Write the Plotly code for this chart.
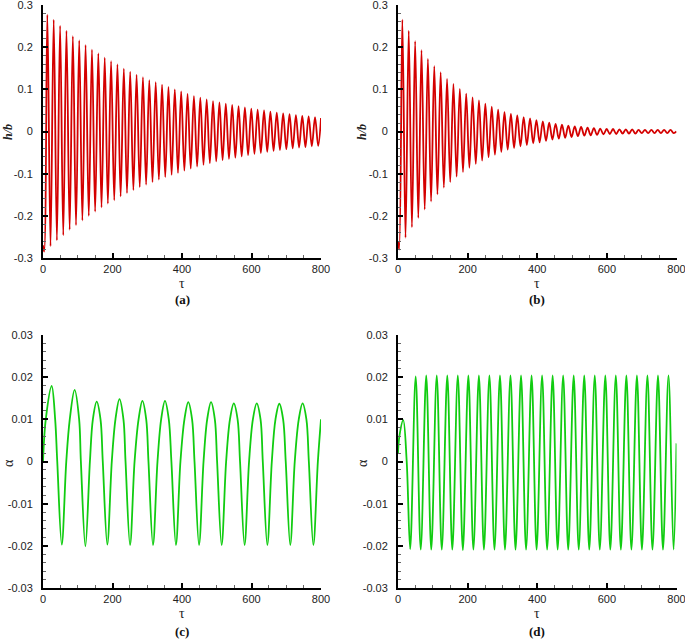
import plotly.graph_objects as go

# ---------------- data ----------------
# (a) heave h/b : peaks and troughs
tau_a_pk = [12.5, 30.8, 49.2, 67.5, 85.9, 104.2, 122.5, 140.9, 159.2, 177.6, 195.9, 214.2, 232.6,
            250.9, 269.3, 287.6, 305.9, 324.3, 342.6, 361.0, 379.3, 397.6, 416.0, 434.3, 452.7,
            471.0, 489.3, 507.7, 526.0, 544.4, 562.7, 581.0, 599.4, 617.7, 636.1, 654.4, 672.7,
            691.1, 709.4, 727.8, 746.1, 764.4, 782.8]
h_a_pk = [0.277, 0.265, 0.251, 0.239, 0.226, 0.216, 0.205, 0.194, 0.185, 0.175, 0.167, 0.159, 0.149,
          0.142, 0.135, 0.129, 0.122, 0.117, 0.111, 0.106, 0.100, 0.095, 0.089, 0.084, 0.080,
          0.076, 0.072, 0.069, 0.066, 0.063, 0.060, 0.057, 0.054, 0.052, 0.050, 0.047, 0.045,
          0.043, 0.041, 0.039, 0.037, 0.036, 0.034]
tau_a_tr = [3.3, 21.6, 40.0, 58.3, 76.7, 95.0, 113.3, 131.7, 150.0, 168.4, 186.7, 205.0, 223.4,
            241.7, 260.1, 278.4, 296.7, 315.1, 333.4, 351.8, 370.1, 388.4, 406.8, 425.1, 443.5,
            461.8, 480.1, 498.5, 516.8, 535.2, 553.5, 571.8, 590.2, 608.5, 626.9, 645.2, 663.5,
            681.9, 700.2, 718.6, 736.9, 755.2, 773.6, 791.9]
h_a_tr = [-0.285, -0.272, -0.258, -0.246, -0.233, -0.222, -0.211, -0.200, -0.190, -0.180, -0.171,
          -0.163, -0.154, -0.146, -0.139, -0.132, -0.126, -0.120, -0.114, -0.108, -0.103, -0.098,
          -0.093, -0.088, -0.083, -0.079, -0.075, -0.071, -0.068, -0.065, -0.062, -0.059, -0.056,
          -0.053, -0.051, -0.048, -0.046, -0.044, -0.042, -0.040, -0.038, -0.037, -0.035, -0.034]
tau_a_ends = [0, 800]
h_a_ends = [-0.27, 0.032]

# (b) heave h/b : peaks and troughs
tau_b_pk = tau_a_pk
h_b_pk = [0.265, 0.239, 0.214, 0.193, 0.172, 0.155, 0.141, 0.125, 0.113, 0.101, 0.090, 0.081, 0.074,
          0.066, 0.059, 0.052, 0.046, 0.042, 0.038, 0.034, 0.031, 0.027, 0.024, 0.021, 0.018,
          0.016, 0.014, 0.012, 0.011, 0.009, 0.008, 0.007, 0.006, 0.006, 0.005, 0.005, 0.005,
          0.004, 0.004, 0.004, 0.004, 0.004, 0.004]
tau_b_tr = tau_a_tr
h_b_tr = [-0.280, -0.252, -0.227, -0.205, -0.185, -0.166, -0.149, -0.133, -0.120, -0.107, -0.096,
          -0.086, -0.077, -0.069, -0.061, -0.055, -0.048, -0.043, -0.039, -0.035, -0.032, -0.028,
          -0.026, -0.022, -0.019, -0.017, -0.015, -0.013, -0.011, -0.010, -0.009, -0.008, -0.007,
          -0.006, -0.006, -0.005, -0.005, -0.005, -0.004, -0.004, -0.004, -0.004, -0.004, -0.004]
tau_b_ends = [0, 800]
h_b_ends = [-0.26, 0.0]

# (c) pitch alpha : peaks, shoulders (0.01 level), zero crossings, cusps
tau_c_pk = [25, 91, 154.5, 220, 286, 351, 418, 483.5, 549, 615, 680, 747]
alpha_c_pk = [0.0179, 0.0170, 0.0142, 0.0148, 0.0144, 0.0144, 0.0141, 0.0141, 0.0138, 0.0138,
              0.0137, 0.0138]
tau_c_sh = [8, 35, 77, 104, 143.5, 165.5, 208.5, 231.5, 275, 297, 340, 362, 407, 429,
            472.5, 494.5, 538, 560, 604, 626, 669, 691, 736, 758]
alpha_c_sh = [0.010] * len(tau_c_sh)
tau_c_cusp = [54, 122, 185, 250.5, 316.5, 382.5, 449, 514, 580, 645.5, 711.5, 778]
alpha_c_cusp = [-0.0197, -0.0201, -0.0197, -0.0198, -0.0198, -0.0198, -0.0198, -0.0198, -0.0198,
                -0.0198, -0.0198, -0.0198]
tau_c_zero = [0, 41, 67, 109, 135, 172, 198, 237.5, 263.5, 303.5, 329.5, 369.5, 395.5, 436, 462,
              501, 527, 567, 593, 632.5, 658.5, 698.5, 724.5, 765, 791]
alpha_c_zero = [0.0] * len(tau_c_zero)
tau_c_end = [800]
alpha_c_end = [0.010]

# (d) pitch alpha : peaks and troughs
tau_d_pk = [15, 50.8, 81.1, 111.3, 141.6, 171.8, 202.1, 232.4, 262.6, 292.9, 323.1, 353.4, 383.7,
            413.9, 444.2, 474.4, 504.7, 535.0, 565.2, 595.5, 625.7, 656.0, 686.3, 716.5, 746.8, 777.0]
alpha_d_pk = [0.0098, 0.0202, 0.0204, 0.0204, 0.0204, 0.0204, 0.0204, 0.0204, 0.0204, 0.0204,
              0.0204, 0.0204, 0.0204, 0.0204, 0.0204, 0.0204, 0.0204, 0.0204, 0.0204, 0.0204,
              0.0204, 0.0204, 0.0204, 0.0204, 0.0204, 0.0204]
tau_d_tr = [35.0, 65.3, 95.5, 125.8, 156.0, 186.3, 216.6, 246.8, 277.1, 307.3, 337.6, 367.9, 398.1,
            428.4, 458.6, 488.9, 519.2, 549.4, 579.7, 609.9, 640.2, 670.5, 700.7, 731.0, 761.2, 791.5]
alpha_d_tr = [-0.0208, -0.0209, -0.0209, -0.0209, -0.0209, -0.0210, -0.0209, -0.0209, -0.0209,
              -0.0209, -0.0209, -0.0209, -0.0209, -0.0209, -0.0209, -0.0209, -0.0209, -0.0209,
              -0.0209, -0.0209, -0.0209, -0.0209, -0.0209, -0.0209, -0.0209, -0.0209]
tau_d_other = [0, 4, 25, 800]
alpha_d_other = [0.002, 0.006, 0.0, 0.0043]

# tick labels
tau_ticks = [0, 200, 400, 600, 800]
tau_ticktext = ["0", "200", "400", "600", "800"]
h_ticks = [-0.3, -0.2, -0.1, 0, 0.1, 0.2, 0.3]
h_ticktext = ["-0.3", "-0.2", "-0.1", "0", "0.1", "0.2", "0.3"]
alpha_ticks = [-0.03, -0.02, -0.01, 0, 0.01, 0.02, 0.03]
alpha_ticktext = ["-0.03", "-0.02", "-0.01", "0", "0.01", "0.02", "0.03"]
panel_labels = ["(a)", "(b)", "(c)", "(d)"]


def merge(*pairs):
    pts = []
    for t, v in pairs:
        pts += list(zip(t, v))
    pts.sort(key=lambda p: p[0])
    return [p[0] for p in pts], [p[1] for p in pts]


tau_a, h_a = merge((tau_a_pk, h_a_pk), (tau_a_tr, h_a_tr), (tau_a_ends, h_a_ends))
tau_b, h_b = merge((tau_b_pk, h_b_pk), (tau_b_tr, h_b_tr), (tau_b_ends, h_b_ends))
tau_c, alpha_c = merge((tau_c_pk, alpha_c_pk), (tau_c_sh, alpha_c_sh), (tau_c_cusp, alpha_c_cusp),
                       (tau_c_zero, alpha_c_zero), (tau_c_end, alpha_c_end))
tau_d, alpha_d = merge((tau_d_pk, alpha_d_pk), (tau_d_tr, alpha_d_tr), (tau_d_other, alpha_d_other))

RED = "#d40000"
GREEN = "#11cc11"

W, H = 685, 640


def fx(px):
    return px / W


def fy(py):
    return 1 - py / H


fig = go.Figure()
series = [(tau_a, h_a, RED, "x", "y"), (tau_b, h_b, RED, "x2", "y2"),
          (tau_c, alpha_c, GREEN, "x3", "y3"), (tau_d, alpha_d, GREEN, "x4", "y4")]
for t, v, c, xa, ya in series:
    fig.add_trace(go.Scatter(x=t, y=v, mode="lines", xaxis=xa, yaxis=ya, showlegend=False,
                             line=dict(color=c, width=1.8, shape="spline", smoothing=1.0),
                             hoverinfo="skip"))

tickfont = dict(family="Liberation Sans, Arial, sans-serif", size=11, color="#222")


def axis_style(**kw):
    d = dict(showline=True, linecolor="black", linewidth=2, mirror=False,
             ticks="inside", ticklen=5, tickwidth=1.5, tickcolor="black",
             showgrid=False, zeroline=False, tickfont=tickfont, tickmode="array",
             fixedrange=True, automargin=False, ticklabeloverflow="allow")
    d.update(kw)
    return d


dom_xl = [fx(43), fx(321)]
dom_xr = [fx(398), fx(676.5)]
dom_yt = [fy(258), fy(5)]
dom_yb = [fy(588), fy(335)]

xminor = dict(ticks="inside", ticklen=3, tickwidth=1, tickcolor="#666", tickmode="linear",
              tick0=0, dtick=50)
hminor = dict(ticks="inside", ticklen=3, tickwidth=1, tickcolor="#666", tickmode="linear",
              tick0=0, dtick=0.02)
aminor = dict(ticks="inside", ticklen=3, tickwidth=1, tickcolor="#666", tickmode="linear",
              tick0=0, dtick=0.002)

layout_axes = {}
for i, (dx, dy, yt, ytt, ymin, yr) in enumerate([
        (dom_xl, dom_yt, h_ticks, h_ticktext, hminor, [-0.3, 0.3]),
        (dom_xr, dom_yt, h_ticks, h_ticktext, hminor, [-0.3, 0.3]),
        (dom_xl, dom_yb, alpha_ticks, alpha_ticktext, aminor, [-0.03, 0.03]),
        (dom_xr, dom_yb, alpha_ticks, alpha_ticktext, aminor, [-0.03, 0.03])]):
    n = "" if i == 0 else str(i + 1)
    layout_axes["xaxis" + n] = axis_style(domain=dx, range=[0, 800], tickvals=tau_ticks,
                                          ticktext=tau_ticktext, minor=xminor,
                                          anchor="y" + n)
    layout_axes["yaxis" + n] = axis_style(domain=dy, range=yr, tickvals=yt, ticktext=ytt,
                                          minor=ymin, anchor="x" + n, ticklabelstandoff=6)

serif = "Liberation Serif, Times New Roman, serif"
ann = []
centers_x = [(43 + 321) / 2, (398 + 676.5) / 2]
for j, cx in enumerate(centers_x):
    ann.append(dict(x=fx(cx), y=fy(283), text="τ", font=dict(family=serif, size=14, color="#222")))
    ann.append(dict(x=fx(cx), y=fy(299), text="<b>" + panel_labels[j] + "</b>",
                    font=dict(family=serif, size=13, color="#111")))
    ann.append(dict(x=fx(cx), y=fy(613), text="τ", font=dict(family=serif, size=14, color="#222")))
    ann.append(dict(x=fx(cx), y=fy(631), text="<b>" + panel_labels[j + 2] + "</b>",
                    font=dict(family=serif, size=13, color="#111")))
for xl in [8, 362]:
    ann.append(dict(x=fx(xl), y=fy(132), text="<b><i>h/b</i></b>", textangle=-90,
                    font=dict(family=serif, size=12, color="#222")))
    ann.append(dict(x=fx(xl), y=fy(463), text="α", textangle=-90,
                    font=dict(family=serif, size=14, color="#222")))
for a in ann:
    a.update(xref="paper", yref="paper", showarrow=False, xanchor="center", yanchor="middle")

fig.update_layout(width=W, height=H, margin=dict(l=0, r=0, t=0, b=0),
                  paper_bgcolor="white", plot_bgcolor="white", annotations=ann,
                  **layout_axes)

# remove the page's default 8px body margin so the figure fills the window exactly
fig.write_html("out.html", config={"displayModeBar": False},
               post_script="document.body.style.margin='0';")
